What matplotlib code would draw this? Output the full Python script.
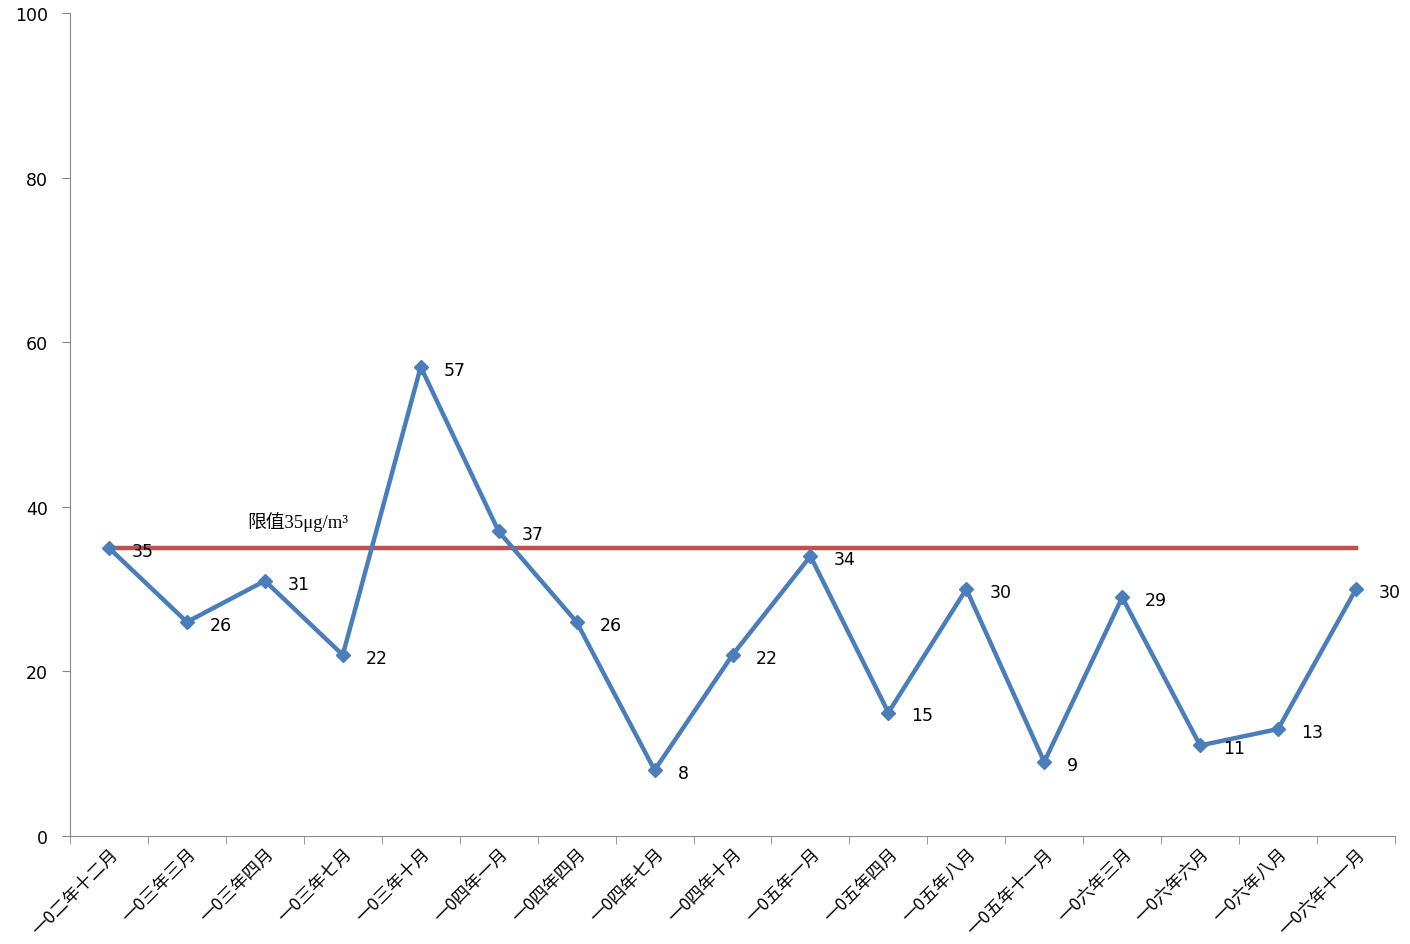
import matplotlib
matplotlib.use("Agg")
import matplotlib.pyplot as plt
from matplotlib.ticker import FixedLocator, MultipleLocator

categories = ["一0二年十二月", "一0三年三月", "一0三年四月", "一0三年七月", "一0三年十月",
              "一0四年一月", "一0四年四月", "一0四年七月", "一0四年十月", "一0五年一月",
              "一0五年四月", "一0五年八月", "一0五年十一月", "一0六年三月", "一0六年六月",
              "一0六年八月", "一0六年十一月"]
values = [35, 26, 31, 22, 57, 37, 26, 8, 22, 34, 15, 30, 9, 29, 11, 13, 30]
limit_value = 35
limit_label = "限值35μg/m³"

plt.rcParams["font.family"] = ["DejaVu Sans"]

fig = plt.figure(figsize=(14.1, 9.45), dpi=100)
ax = fig.add_axes([70/1410, 1-837/945, (1395-70)/1410, (837-14)/945])

x = list(range(len(categories)))
ax.plot(x, values, color="#4A7EBB", lw=3.2, marker="D", ms=7.5, zorder=3)
ax.plot(x, [limit_value]*len(x), color="#C0504D", lw=3.2, zorder=2)

for xi, v in zip(x, values):
    ax.annotate(str(v), (xi, v), xytext=(16.5, -2), textcoords="offset points",
                fontsize=12.5, va="center", ha="left", color="black", zorder=4)

ax.text(1.78, 38.3, limit_label, fontsize=13.5, family=["Liberation Serif", "Noto Sans CJK TC"],
        ha="left", va="center")

ax.set_xlim(-0.5, len(x)-0.5)
ax.set_ylim(0, 100)
ax.yaxis.set_major_locator(MultipleLocator(20))
ax.set_xticks(x)
ax.set_xticklabels(categories, rotation=45, ha="right", rotation_mode="anchor",
                   family=["Noto Sans CJK TC", "DejaVu Sans"], fontsize=12.5)
ax.tick_params(axis="x", which="major", length=0, pad=6)
ax.xaxis.set_minor_locator(FixedLocator([i - 0.5 for i in range(len(x)+1)]))
ax.tick_params(axis="x", which="minor", length=6, color="#888888")
ax.tick_params(axis="y", length=6, color="#888888", labelsize=12.5, pad=10)
for s in ["top", "right"]:
    ax.spines[s].set_visible(False)
for s in ["left", "bottom"]:
    ax.spines[s].set_color("#888888")

fig.savefig("out.png", dpi=100)
